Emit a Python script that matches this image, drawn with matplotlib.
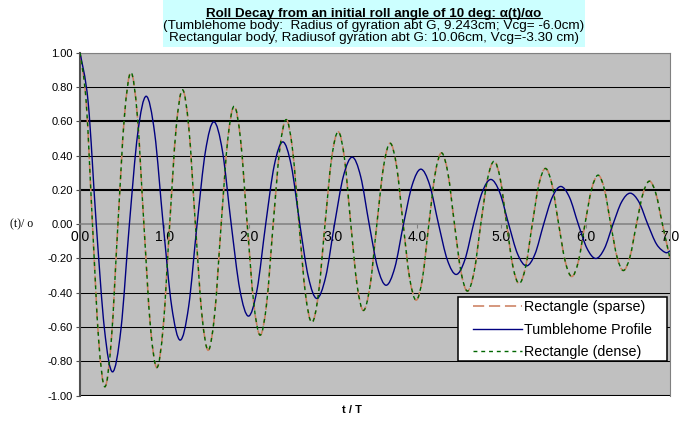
import numpy as np
import matplotlib
matplotlib.use("Agg")
import matplotlib.pyplot as plt
from matplotlib.path import Path
from matplotlib.patches import PathPatch, Rectangle
from matplotlib.lines import Line2D

plt.rcParams['font.family'] = ['Liberation Sans', 'DejaVu Sans']

# values (extremes, zero crossings and the points between)
rect_t = [0.000, 0.074, 0.148, 0.221, 0.295, 0.372, 0.450, 0.527, 0.604, 0.681, 0.758, 0.835,
          0.912, 0.988, 1.064, 1.140, 1.216, 1.292, 1.369, 1.445, 1.521, 1.598, 1.675, 1.752,
          1.829, 1.906, 1.984, 2.061, 2.138, 2.215, 2.292, 2.369, 2.446, 2.522, 2.599, 2.675,
          2.751, 2.829, 2.907, 2.985, 3.063, 3.138, 3.213, 3.288, 3.363, 3.442, 3.522, 3.601,
          3.680, 3.757, 3.834, 3.911, 3.988, 4.063, 4.139, 4.214, 4.289, 4.366, 4.443, 4.520,
          4.597, 4.676, 4.755, 4.834, 4.913, 4.987, 5.062, 5.136, 5.210, 5.288, 5.366, 5.444,
          5.522, 5.600, 5.679, 5.757, 5.835, 5.913, 5.991, 6.069, 6.147, 6.222, 6.297, 6.372,
          6.447, 6.524, 6.602, 6.679, 6.756, 6.833, 6.910, 7.000]
rect_v = [1.000, 0.710, 0.000, -0.673, -0.948, -0.673, 0.000, 0.628, 0.885, 0.628, 0.000, -0.594,
          -0.836, -0.594, 0.000, 0.557, 0.784, 0.557, 0.000, -0.522, -0.735, -0.522, 0.000, 0.488,
          0.688, 0.488, 0.000, -0.459, -0.647, -0.459, 0.000, 0.433, 0.610, 0.433, 0.000, -0.407,
          -0.573, -0.407, 0.000, 0.383, 0.539, 0.383, 0.000, -0.357, -0.503, -0.357, 0.000, 0.335,
          0.472, 0.335, 0.000, -0.315, -0.443, -0.315, 0.000, 0.295, 0.416, 0.295, 0.000, -0.277,
          -0.390, -0.277, 0.000, 0.261, 0.367, 0.261, 0.000, -0.246, -0.346, -0.246, 0.000, 0.231,
          0.325, 0.231, 0.000, -0.217, -0.305, -0.217, 0.000, 0.203, 0.286, 0.203, 0.000, -0.192,
          -0.270, -0.192, 0.000, 0.178, 0.251, 0.178, 0.000, -0.200]

# dense rectangle run lies on top of the sparse one
dense_t = list(rect_t)
dense_v = list(rect_v)

tumble_t = [0.000, 0.097, 0.193, 0.290, 0.386, 0.486, 0.586, 0.685, 0.785, 0.886, 0.987, 1.088,
            1.189, 1.289, 1.389, 1.488, 1.588, 1.691, 1.794, 1.896, 1.999, 2.101, 2.203, 2.304,
            2.406, 2.507, 2.608, 2.709, 2.810, 2.915, 3.020, 3.124, 3.229, 3.330, 3.431, 3.531,
            3.632, 3.735, 3.838, 3.941, 4.044, 4.149, 4.254, 4.358, 4.463, 4.566, 4.669, 4.771,
            4.874, 4.980, 5.086, 5.191, 5.297, 5.399, 5.501, 5.602, 5.704, 5.808, 5.912, 6.016,
            6.120, 6.222, 6.324, 6.425, 6.527, 6.632, 6.736, 6.841, 6.945, 7.000]
tumble_v = [1.000, 0.710, 0.000, -0.611, -0.861, -0.611, 0.000, 0.530, 0.746, 0.530, 0.000, -0.480,
            -0.676, -0.480, 0.000, 0.424, 0.597, 0.424, 0.000, -0.381, -0.536, -0.381, 0.000, 0.341,
            0.480, 0.341, 0.000, -0.307, -0.433, -0.307, 0.000, 0.278, 0.391, 0.278, 0.000, -0.253,
            -0.356, -0.253, 0.000, 0.228, 0.321, 0.228, 0.000, -0.208, -0.293, -0.208, 0.000, 0.185,
            0.261, 0.185, 0.000, -0.173, -0.243, -0.173, 0.000, 0.156, 0.220, 0.156, 0.000, -0.142,
            -0.200, -0.142, 0.000, 0.129, 0.181, 0.129, 0.000, -0.117, -0.165, -0.155]

labels = ['Rectangle (sparse)', 'Tumblehome Profile', 'Rectangle (dense)']
yticks = [-1.0, -0.8, -0.6, -0.4, -0.2, 0.0, 0.2, 0.4, 0.6, 0.8, 1.0]
xticks = [0, 1, 2, 3, 4, 5, 6, 7]


def smooth_path(t, v):
    # excel style smoothed line (catmull-rom bezier through the points)
    p = np.column_stack([t, v])
    verts = [p[0]]
    codes = [Path.MOVETO]
    n = len(p)
    for i in range(n - 1):
        p0 = p[i - 1] if i > 0 else p[i]
        p3 = p[i + 2] if i + 2 < n else p[i + 1]
        verts += [p[i] + (p[i + 1] - p0) / 6, p[i + 1] - (p3 - p[i]) / 6, p[i + 1]]
        codes += [Path.CURVE4] * 3
    return Path(verts, codes)


W, H = 688, 423
fig = plt.figure(figsize=(W / 100, H / 100), dpi=100)
ax = fig.add_axes([80 / W, 1 - 395.7 / H, 590 / W, 343 / H])
ax.set_facecolor('#C0C0C0')
ax.set_xlim(0, 7)
ax.set_ylim(-1, 1)

styles = [
    dict(color='#CC8060', lw=1.15, ls=(0, (7, 3))),
    dict(color='#000080', lw=1.0, ls='-'),
    dict(color='#006600', lw=1.0, ls=(0, (2.8, 2.8))),
]
series = [(rect_t, rect_v), (tumble_t, tumble_v), (dense_t, dense_v)]
handles = []
for (t, v), st, lab in zip(series, styles, labels):
    ax.add_patch(PathPatch(smooth_path(t, v), facecolor='none', edgecolor=st['color'],
                           lw=st['lw'], linestyle=st['ls'], zorder=3))
    handles.append(Line2D([], [], color=st['color'], lw=st['lw'], linestyle=st['ls'], label=lab))

# gridlines
ax.set_yticks(yticks)
ax.set_yticklabels(['%.2f' % y for y in yticks], fontsize=8)
ax.yaxis.grid(True, color='black', lw=0.75)
for y, gl in zip(yticks, ax.get_ygridlines()):
    if y in (0.2, 0.6, -1.0):
        gl.set_linewidth(1.5)
    if y == 0.0:
        gl.set_visible(False)
ax.set_axisbelow(True)

ax.set_xticks(xticks)
ax.set_xticklabels(['%.1f' % x for x in xticks], fontsize=8)
ax.spines['bottom'].set_position(('data', 0))
ax.spines['bottom'].set_color('#808080')
ax.spines['bottom'].set_linewidth(1.1)
ax.spines['left'].set_color('#505050')
ax.spines['left'].set_linewidth(1.5)
for s in ('top', 'right'):
    ax.spines[s].set_color('#808080')
    ax.spines[s].set_linewidth(0.8)
ax.tick_params(axis='x', direction='out', length=3, width=0.8, color='#808080', pad=1.5)
ax.tick_params(axis='y', direction='out', length=3, width=0.8, color='#505050', pad=2)

# legend box drawn by hand so its padding matches
fig.patches.append(Rectangle((458 / W, 1 - 361 / H), 209 / W, 64 / H, transform=fig.transFigure,
                             facecolor='white', edgecolor='black', lw=1.1, zorder=4))
leg = fig.legend(handles=handles, loc='upper left', bbox_to_anchor=(473 / W, 1 - 300 / H),
                 fontsize=10.3, frameon=False, handlelength=3.4,
                 handletextpad=0.2, labelspacing=0.6, borderpad=0, borderaxespad=0)
leg.set_zorder(5)

# title block
fig.patches.append(Rectangle((163 / W, 1 - 47 / H), 422 / W, 47 / H, transform=fig.transFigure,
                             facecolor='#CCFFFF', edgecolor='none', zorder=0))
cx = 374 / W
t1 = fig.text(cx, 1 - 16.5 / H, 'Roll Decay from an initial roll angle of 10 deg: \u03b1(t)/\u03b1o',
              ha='center', va='baseline', fontsize=9.6, fontweight='bold')
fig.text(cx, 1 - 25.5 / H, '(Tumblehome body:  Radius of gyration abt G, 9.243cm; Vcg= -6.0cm)',
         ha='center', va='center', fontsize=9.7)
fig.text(cx, 1 - 38 / H, 'Rectangular body, Radiusof gyration abt G: 10.06cm, Vcg=-3.30 cm)',
         ha='center', va='center', fontsize=9.7)

fig.text(10 / W, 1 - 224 / H, '(t)/ o', ha='left', va='center', fontsize=8.5,
         family=['Liberation Serif', 'DejaVu Serif'])
fig.text(352 / W, 1 - 410 / H, 't / T', ha='center', va='center', fontsize=8, fontweight='bold')

fig.canvas.draw()
bb = t1.get_window_extent()
fig.add_artist(Line2D([bb.x0 / W, bb.x1 / W], [(H - 18) / H, (H - 18) / H],
                      transform=fig.transFigure, color='black', lw=0.8))

fig.savefig('out.png', dpi=100)
